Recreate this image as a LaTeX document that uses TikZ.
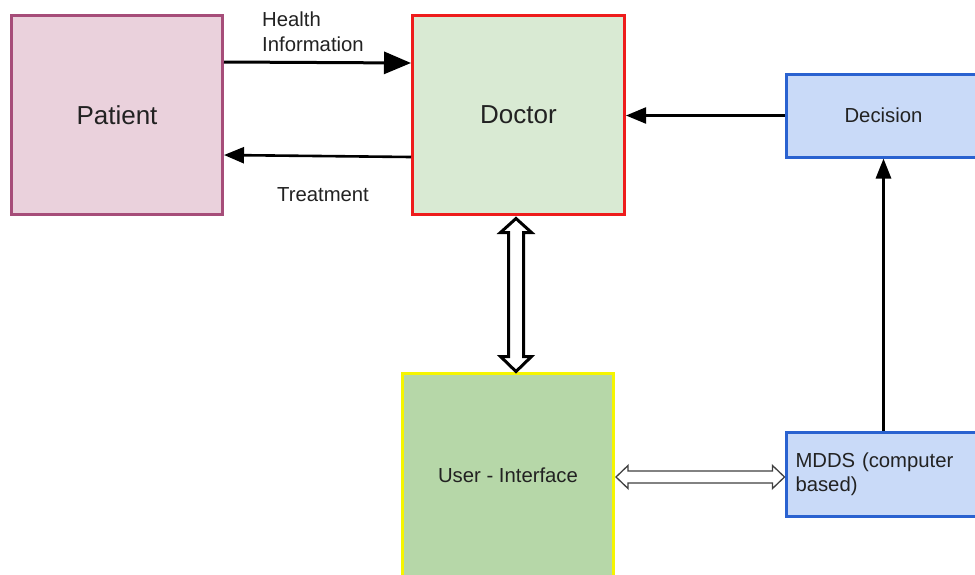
\documentclass[tikz,border=0pt]{standalone}
\usepackage{fontspec}
\setmainfont{Liberation Sans}
\usetikzlibrary{arrows.meta,calc}
\definecolor{patborder}{HTML}{A64D79}
\definecolor{patfill}{HTML}{EAD1DC}
\definecolor{docborder}{HTML}{EE1C1C}
\definecolor{docfill}{HTML}{D9EAD3}
\definecolor{blueborder}{HTML}{2A62D0}
\definecolor{bluefill}{HTML}{C9DAF8}
\definecolor{uiborder}{HTML}{F5F500}
\definecolor{uifill}{HTML}{B6D7A8}
\definecolor{txt}{HTML}{222222}
\begin{document}
\begin{tikzpicture}[x=1pt,y=-1pt,
  box/.style={draw, line width=3pt, inner sep=0pt, text=txt},
  bigtext/.style={font=\fontsize{26}{31}\selectfont},
  smalltext/.style={font=\fontsize{20.3}{24.5}\selectfont, text=txt},
  flow/.style={line width=2.6pt, -{Triangle[length=20pt,width=16pt]}},
  hollow/.style={draw=black, line width=3pt, fill=white, line join=miter},
  hollowthin/.style={draw=black!75, line width=1.3pt, fill=white, line join=miter}
]
\clip (0,0) rectangle (975,574);
\fill[white] (0,0) rectangle (975,574);

\node[box, draw=patborder, fill=patfill, minimum width=211, minimum height=199, bigtext] (patient) at (117,115) {Patient};
\node[box, draw=docborder, fill=docfill, minimum width=212, minimum height=199, bigtext] (doctor) at (518.5,115) {Doctor};
\node[box, draw=blueborder, fill=bluefill, minimum width=195, minimum height=83, smalltext] (decision) at (883.5,115.5) {Decision};
\node[box, draw=blueborder, fill=bluefill, minimum width=195, minimum height=84, smalltext, text width=176, inner xsep=0pt, align=left] (mdds) at (883.5,474) {MDDS (computer\\based)};
\node[box, draw=uiborder, fill=uifill, minimum width=211, minimum height=204, smalltext] (ui) at (508,475.5) {User - Interface};

% labels
\node[smalltext, anchor=west, align=left, inner sep=0pt] (hi) at (262,31.5) {Health\\Information};
\node[smalltext, inner sep=0pt] (tr) at (323,195) {Treatment};

% arrows
\draw[line width=3pt, -{Triangle[length=27pt,width=22pt]}] ([yshift=53pt]patient.east) -- ([yshift=52pt]doctor.west);
\draw[flow] ([yshift=-42pt]doctor.west) -- ([yshift=-40pt]patient.east);
\draw[line width=2.2pt, -{Triangle[length=20pt,width=16pt]}] (decision.west) -- (doctor.east |- decision.west);
\draw[line width=3pt, -{Triangle[length=20pt,width=15pt]}] (mdds.north -| decision.south) -- (decision.south);

% double hollow arrow Doctor <-> User Interface
\coordinate (vt) at ($(doctor.south)+(-2.5,2.5)$);
\coordinate (vb) at ($(ui.north)+(8,-0.5)$);
\draw[hollow] (vt) -- ++(15.5,14) -- ++(-8,0) -- ($(vb)+(7.5,-15)$) -- ++(8,0) -- (vb) -- ++(-15.5,-15) -- ++(8,0) -- ($(vt)+(-7.5,14)$) -- ++(-8,0) -- cycle;

% double hollow arrow User Interface <-> MDDS
\coordinate (lt) at ($(ui.east)+(1,1.5)$);
\coordinate (rt) at ($(mdds.west)+(0,3)$);
\draw[hollowthin] (lt) -- ++(12,-11.5) -- ++(0,5.5) -- ($(rt)+(-12,-6)$) -- ++(0,-5.5) -- (rt) -- ++(-12,11.5) -- ++(0,-5.5) -- ($(lt)+(12,6)$) -- ++(0,5.5) -- cycle;
\end{tikzpicture}
\end{document}
